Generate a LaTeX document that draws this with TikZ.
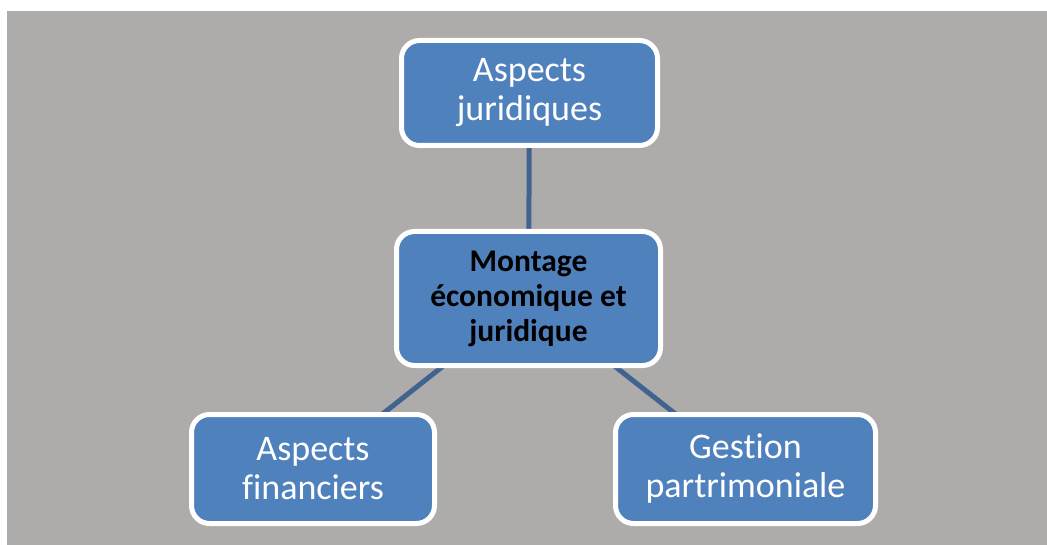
\documentclass[tikz,border=0pt]{standalone}
\usepackage{fontspec}
\setmainfont[Ligatures=NoCommon]{Carlito}
\usetikzlibrary{backgrounds}
\definecolor{bggray}{HTML}{AEABAB}
\definecolor{boxblue}{HTML}{4F81BD}
\definecolor{linkblue}{HTML}{41638F}
\pgfdeclarelayer{bottom}
\pgfsetlayers{bottom,background,main}
\tikzset{
  box/.style={draw=white, line width=5pt, fill=boxblue, rounded corners=18pt,
    inner sep=0pt, align=center, text=white,
    font={\fontsize{36}{39}\selectfont}},
  centerbox/.style={box, text=black, font={\fontsize{31.5}{35}\selectfont\bfseries}},
  link/.style={draw=linkblue, line width=5pt}
}
\begin{document}
\begin{tikzpicture}[x=1pt,y=-1pt]
\begin{pgfonlayer}{bottom}
\fill[white] (0,0) rectangle (1047,545);
\fill[bggray] (7,11) rectangle (1047,545);
\end{pgfonlayer}
\useasboundingbox (0,0) rectangle (1047,545);
\node[box, minimum width=256pt, minimum height=105pt] (jur) at (529.5,93) {Aspects\\juridiques};
\node[centerbox, minimum width=264pt, minimum height=134pt] (mont) at (528.5,298.5) {Montage\\économique et\\juridique};
\node[box, minimum width=243pt, minimum height=109pt] (fin) at (313,469) {Aspects\\financiers};
\node[box, minimum width=260pt, minimum height=109pt] (gest) at (745.5,469) {Gestion\\partrimoniale};
\begin{scope}[on background layer]
\draw[link] (mont.center) -- (jur.center);
\draw[link] (mont.center) -- (fin.center);
\draw[link] (mont.center) -- (gest.center);
\end{scope}
\end{tikzpicture}
\end{document}
